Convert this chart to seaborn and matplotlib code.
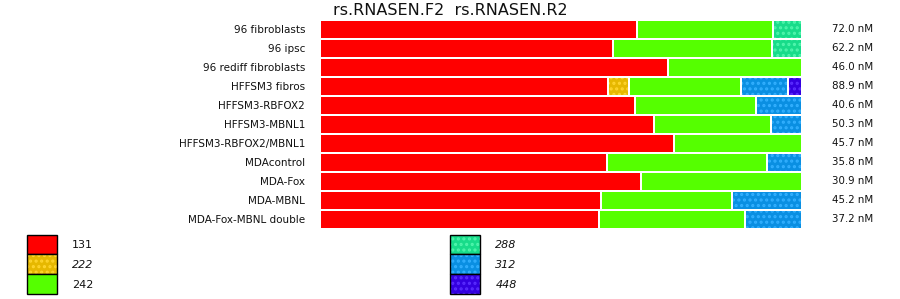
import matplotlib
matplotlib.use("Agg")
import matplotlib.pyplot as plt
import numpy as np
import pandas as pd
import seaborn as sns
from matplotlib.colors import to_rgba
from matplotlib.patches import Patch
from matplotlib.transforms import blended_transform_factory

# ---------------- data ----------------
samples = ["96 fibroblasts", "96 ipsc", "96 rediff fibroblasts", "HFFSM3 fibros",
           "HFFSM3-RBFOX2", "HFFSM3-MBNL1", "HFFSM3-RBFOX2/MBNL1", "MDAcontrol",
           "MDA-Fox", "MDA-MBNL", "MDA-Fox-MBNL double"]
concentrations = ["72.0 nM", "62.2 nM", "46.0 nM", "88.9 nM", "40.6 nM", "50.3 nM",
                  "45.7 nM", "35.8 nM", "30.9 nM", "45.2 nM", "37.2 nM"]
fragment_sizes = ["131", "222", "242", "288", "312", "448"]
frac_131 = [0.658, 0.608, 0.721, 0.598, 0.654, 0.692, 0.735, 0.596, 0.665, 0.583, 0.579]
frac_222 = [0.000, 0.000, 0.000, 0.044, 0.000, 0.000, 0.000, 0.000, 0.000, 0.000, 0.000]
frac_242 = [0.282, 0.329, 0.279, 0.231, 0.250, 0.244, 0.265, 0.331, 0.335, 0.271, 0.302]
frac_288 = [0.060, 0.063, 0.000, 0.000, 0.000, 0.000, 0.000, 0.000, 0.000, 0.000, 0.000]
frac_312 = [0.000, 0.000, 0.000, 0.098, 0.096, 0.064, 0.000, 0.073, 0.000, 0.146, 0.119]
frac_448 = [0.000, 0.000, 0.000, 0.029, 0.000, 0.000, 0.000, 0.000, 0.000, 0.000, 0.000]

# ---------------- style ----------------
face_colors = ["#FF0000", "#E6B800", "#55FF00", "#18DC8A", "#0A8FE2", "#3400E0"]
dot_colors = [None, "#FFD52E", None, "#4FF5AC", "#33B0FF", "#5A2CFF"]
hatches = [None, "...", None, "...", "...", "..."]
italic = [False, True, False, True, True, True]

sns.set_theme(style="white")
plt.rcParams["font.family"] = ["DejaVu Sans"]
plt.rcParams["hatch.linewidth"] = 1.5

W, H = 900, 299
fig = plt.figure(figsize=(W / 100, H / 100), dpi=100)
ax_left, ax_right, ax_top, ax_bottom = 320, 802, 19.7, 228.7
ax = fig.add_axes([ax_left / W, 1 - ax_bottom / H, (ax_right - ax_left) / W,
                   (ax_bottom - ax_top) / H])

df = pd.DataFrame({"sample": samples, "131": frac_131, "222": frac_222, "242": frac_242,
                   "288": frac_288, "312": frac_312, "448": frac_448})
cum = df[fragment_sizes].cumsum(axis=1)

# draw cumulative bars from longest to shortest so shorter ones overlay
for k in range(len(fragment_sizes) - 1, -1, -1):
    n_before = len(ax.patches)
    sns.barplot(x=cum[fragment_sizes[k]], y=df["sample"], orient="h",
                color=face_colors[k], saturation=1, width=1.0, errorbar=None,
                edgecolor="white", linewidth=1.44,
                hatch=hatches[k], ax=ax)
    if hatches[k]:
        for p in ax.patches[n_before:]:
            p._hatch_color = to_rgba(dot_colors[k])

ax.set_xlim(0, 1)
ax.set_ylim(len(samples) - 0.5, -0.5)
ax.set_xlabel("")
ax.set_ylabel("")
ax.set_xticks([])
for s in ax.spines.values():
    s.set_visible(False)
ax.tick_params(axis="y", length=0, pad=10.8, labelsize=7.5, labelcolor="#111111")

trans = blended_transform_factory(ax.transAxes, ax.transData)
x_lab = (832 - ax_left) / (ax_right - ax_left)
for i, c in enumerate(concentrations):
    ax.text(x_lab, i, c, transform=trans, ha="left", va="center",
            fontsize=7.4, color="#111111")

fig.text(0.5, 1 - 10.5 / H, "rs.RNASEN.F2  rs.RNASEN.R2", ha="center", va="center",
         fontsize=11.5, color="#111111")

# legend
handles = []
for k in range(len(fragment_sizes)):
    p = Patch(facecolor=face_colors[k], edgecolor="black", linewidth=1.0,
              hatch=hatches[k])
    if hatches[k]:
        p._hatch_color = to_rgba(dot_colors[k])
    handles.append(p)

fs = 8
fpx = fs * 100 / 72
leg = fig.legend(handles, fragment_sizes, loc="upper left",
                 bbox_to_anchor=(27 / W, 1 - 234.5 / H), ncol=2, frameon=False,
                 borderpad=0, borderaxespad=0, fontsize=fs,
                 handlelength=30 / fpx, handleheight=2.39, labelspacing=0,
                 handletextpad=15 / fpx, columnspacing=357 / fpx)
for k, (t, h) in enumerate(zip(leg.get_texts(), leg.legend_handles)):
    t.set_color("#111111")
    if italic[k]:
        t.set_fontstyle("italic")
    if hatches[k]:
        h._hatch_color = to_rgba(dot_colors[k])

fig.savefig("out.png", dpi=100)
